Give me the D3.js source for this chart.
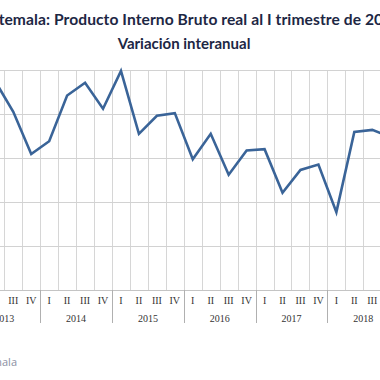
<!DOCTYPE html>
<html><head><meta charset="utf-8">
<script src="https://cdn.jsdelivr.net/npm/d3@7"></script>
<style>body{margin:0;background:#fff;}svg{display:block;}</style>
</head><body>
<svg id="chart" width="380" height="380"></svg>
<script>
const years = ["2013","2014","2015","2016","2017","2018","2019"];
const quarterNames = ["I","II","III","IV"];
const quarters = [
  "2013-I","2013-II","2013-III","2013-IV",
  "2014-I","2014-II","2014-III","2014-IV",
  "2015-I","2015-II","2015-III","2015-IV",
  "2016-I","2016-II","2016-III","2016-IV",
  "2017-I","2017-II","2017-III","2017-IV",
  "2018-I","2018-II","2018-III","2018-IV",
  "2019-I"];
const growth = [
  3.9, 4.74, 4.05, 3.09,
  3.38, 4.42, 4.71, 4.12,
  4.98, 3.55, 3.96, 4.02,
  2.97, 3.55, 2.62, 3.17,
  3.20, 2.21, 2.73, 2.85,
  1.77, 3.59, 3.64, 3.48,
  3.3];
const yTicks = [0,1,2,3,4,5];
const titleText = "Guatemala: Producto Interno Bruto real al I trimestre de 2019";
const subtitleText = "Variación interanual";
const sourceText = "Fuente: Banco de Guatemala";

const W = 380;
const svg = d3.select("#chart");
const step = 17.95;
const left = -31.6;
const x = d3.scaleBand().domain(quarters).range([left, left + step*quarters.length]).padding(0);
const y = d3.scaleLinear().domain([0,5]).range([290,70]);
const inView = px => px > 2 && px < W - 2;

// title
svg.append("text").attr("x",186).attr("y",25).attr("text-anchor","middle")
  .attr("font-family","Lato, 'Open Sans', sans-serif").attr("font-weight","bold")
  .attr("font-size",15.6).attr("letter-spacing",0.08).attr("fill","#1d2744").text(titleText);
svg.append("text").attr("x",184).attr("y",49).attr("text-anchor","middle")
  .attr("font-family","Lato, 'Open Sans', sans-serif").attr("font-weight","bold")
  .attr("font-size",15).attr("fill","#1d2744").text(subtitleText);

// vertical gridlines at band edges
const edges = quarters.map(q => x(q)).concat([x(quarters[quarters.length-1]) + x.bandwidth()]);
svg.append("g").selectAll("line").data(edges).join("line")
  .attr("x1",d=>Math.round(d)+0.5).attr("x2",d=>Math.round(d)+0.5)
  .attr("y1",y(5)).attr("y2",y(0))
  .attr("stroke","#d6d6d6").attr("stroke-width",1);

// horizontal gridlines
svg.append("g").selectAll("line").data(yTicks).join("line")
  .attr("x1",0).attr("x2",W)
  .attr("y1",d=>Math.round(y(d))+0.5).attr("y2",d=>Math.round(y(d))+0.5)
  .attr("stroke",d=>d===0?"#c4c4c4":"#d2d2d2").attr("stroke-width",1);

// year separators below axis
const yearEdges = years.map(yr => x(yr+"-I"));
svg.append("g").selectAll("line").data(yearEdges).join("line")
  .attr("x1",d=>Math.round(d)+0.5).attr("x2",d=>Math.round(d)+0.5)
  .attr("y1",y(0)).attr("y2",323)
  .attr("stroke","#b0b0b0").attr("stroke-width",1);

// quarter labels (only those whose centre lies in the visible window)
svg.append("g").selectAll("text")
  .data(quarters.filter(q => inView(x(q)+x.bandwidth()/2)))
  .join("text")
  .attr("x",d=>x(d)+x.bandwidth()/2).attr("y",304).attr("text-anchor","middle")
  .attr("font-family","'Liberation Serif', 'DejaVu Serif', serif").attr("font-size",10)
  .attr("fill","#333").text(d=>d.split("-")[1]);

// year labels
const yearCenter = yr => {
  const qs = quarters.filter(q=>q.startsWith(yr));
  const a = x(qs[0]), b = x(qs[qs.length-1]) + x.bandwidth();
  return qs.length===4 ? (a+b)/2 : a + x.bandwidth()/2;
};
svg.append("g").selectAll("text")
  .data(years.filter(yr => yearCenter(yr) > -10 && yearCenter(yr) < W))
  .join("text")
  .attr("x",yearCenter)
  .attr("y",322).attr("text-anchor","middle")
  .attr("font-family","'Liberation Serif', 'DejaVu Serif', serif").attr("font-size",10)
  .attr("fill","#333").text(d=>d);

// line
const line = d3.line().x((d,i)=>x(quarters[i])+x.bandwidth()/2).y(d=>y(d));
svg.append("path").datum(growth).attr("d",line)
  .attr("fill","none").attr("stroke","#3a6498").attr("stroke-width",2.6)
  .attr("stroke-linejoin","miter");

// source
svg.append("text").attr("x",17).attr("y",366).attr("text-anchor","end")
  .attr("font-family","'Open Sans', sans-serif").attr("font-size",11)
  .attr("fill","#8a8fa3").text(sourceText);
</script>
</body></html>
